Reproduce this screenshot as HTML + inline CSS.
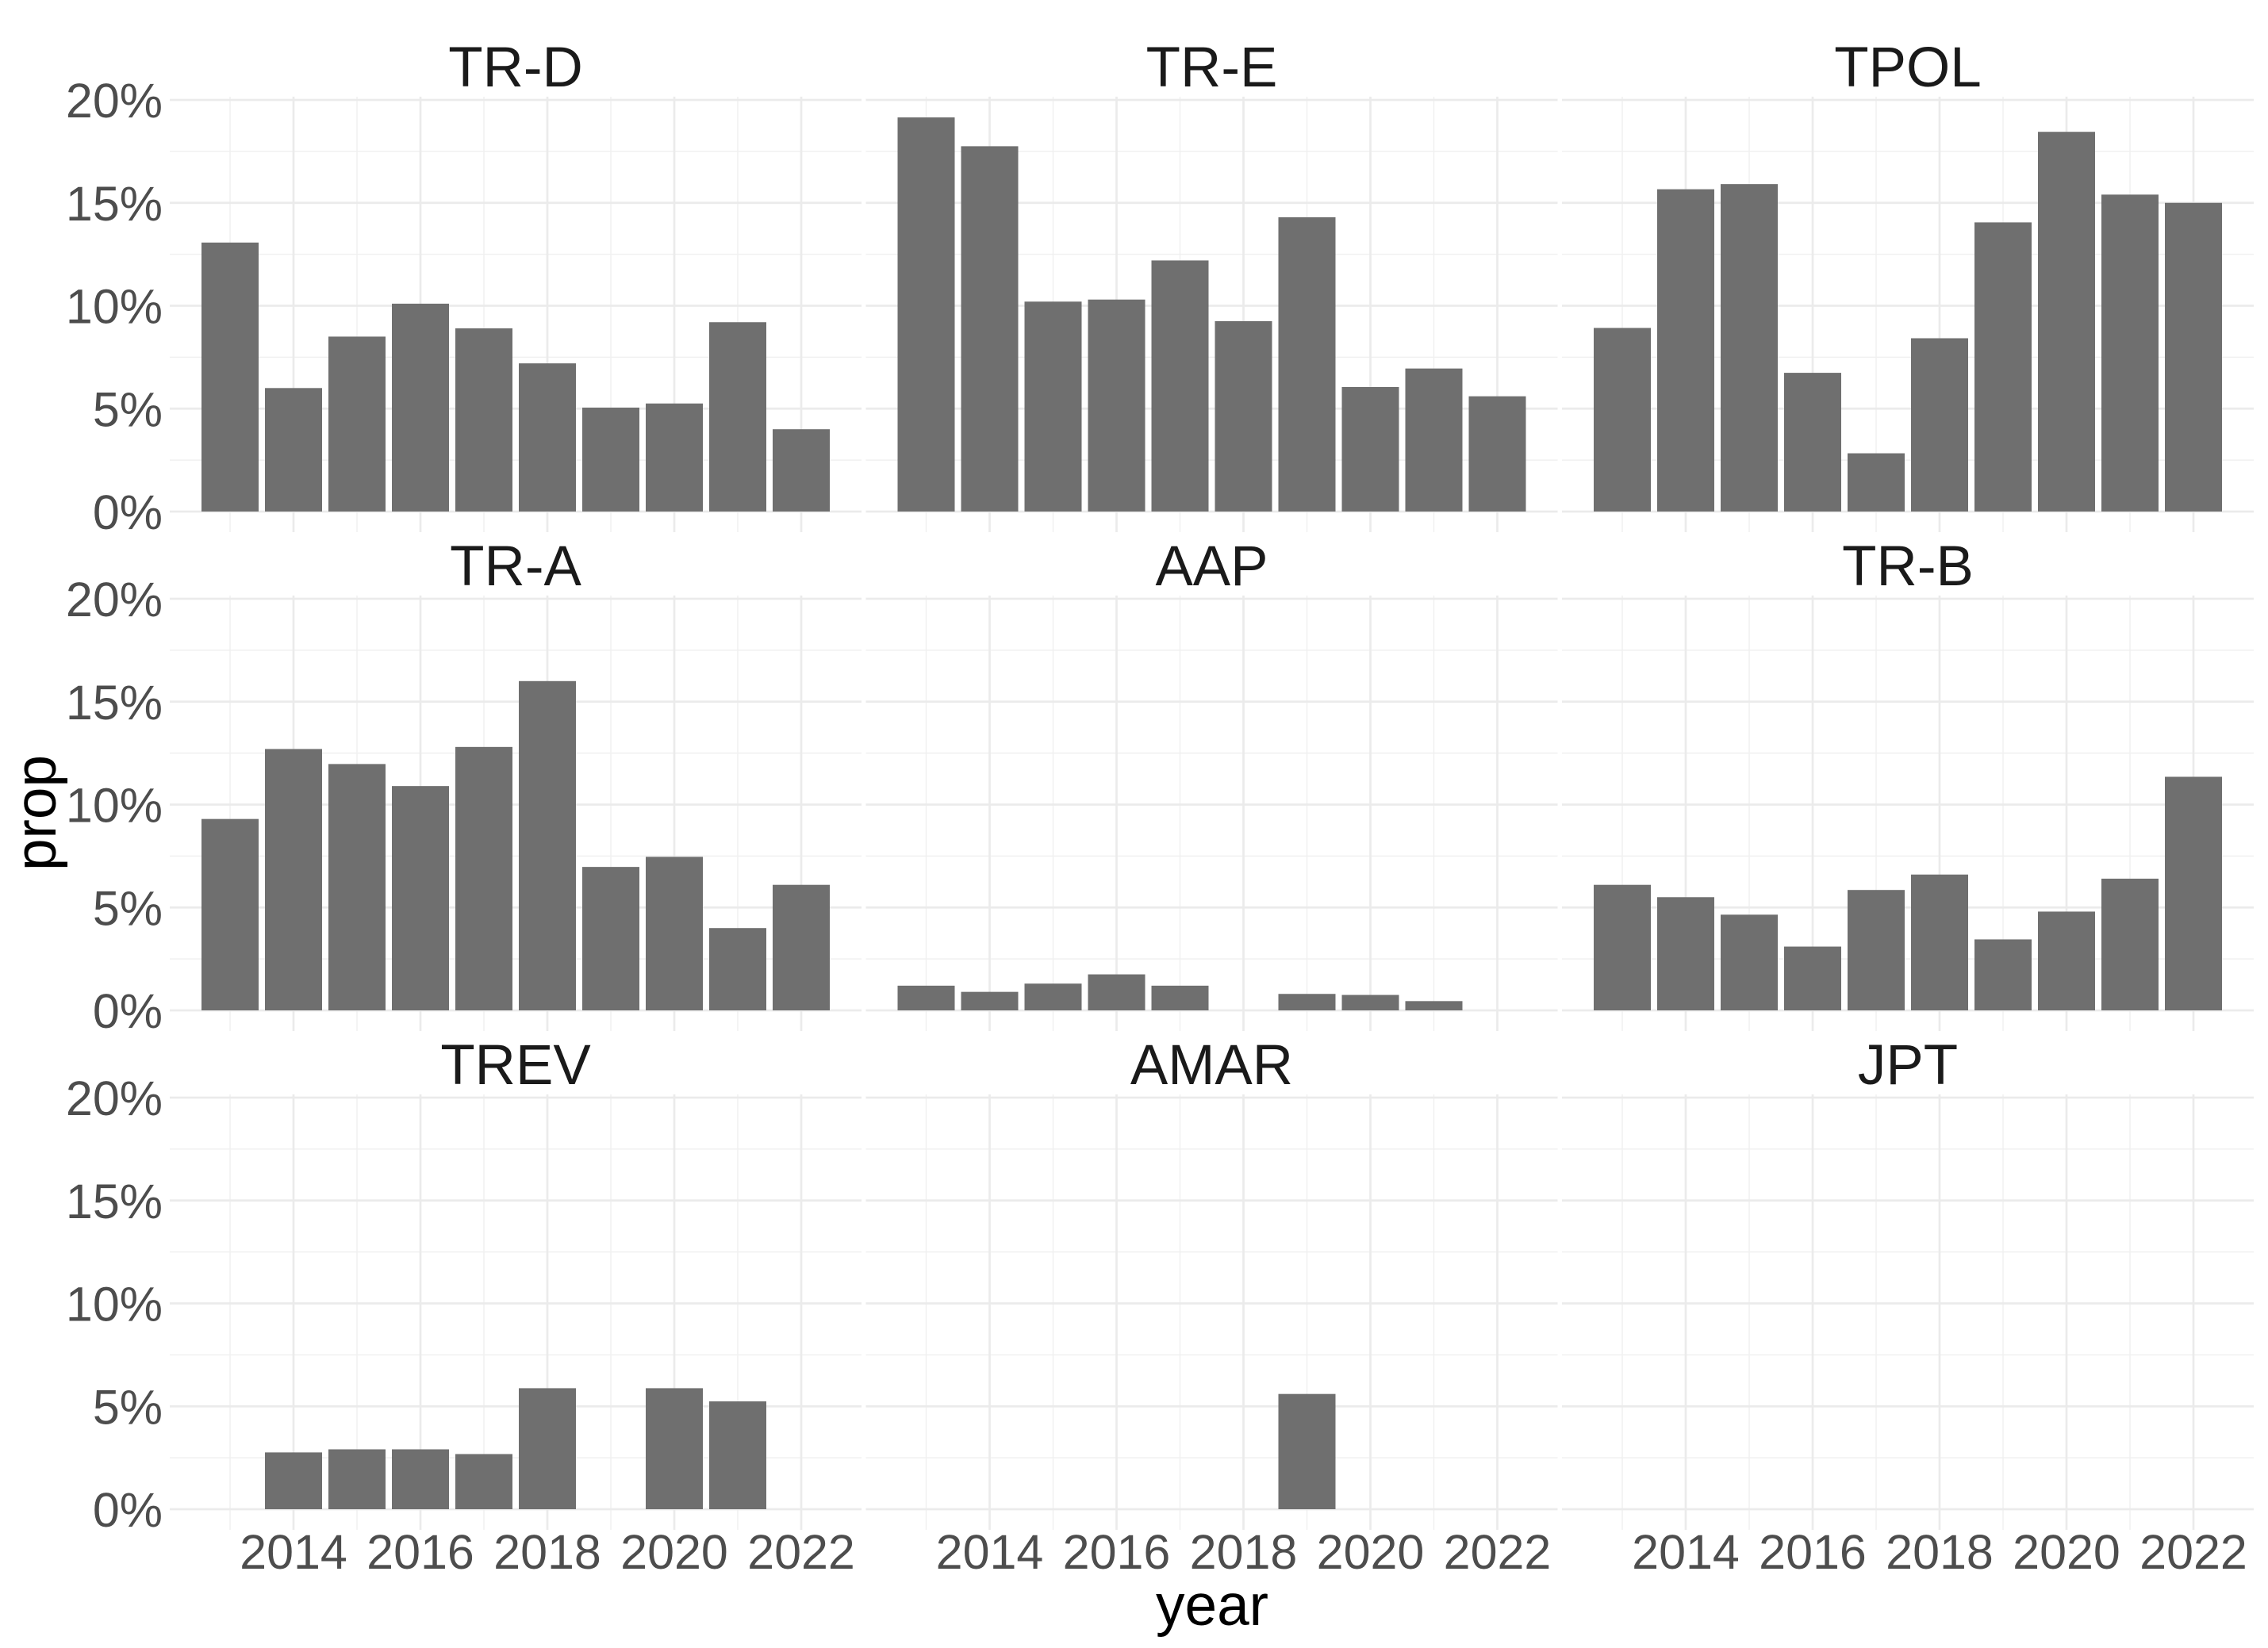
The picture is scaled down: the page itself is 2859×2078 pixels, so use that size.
<!DOCTYPE html>
<html><head><meta charset="utf-8"><style>
html,body{margin:0;padding:0;background:#fff}
svg{display:block}
text{font-family:"Liberation Sans",sans-serif}
</style></head><body>
<svg id="chart" width="2859" height="2078" viewBox="0 0 2859 2078" xmlns="http://www.w3.org/2000/svg">
<rect width="2859" height="2078" fill="#fff"/>
<g id="panels"></g>
<text x="1528" y="2049" font-size="73" text-anchor="middle" fill="#000">year</text>
<text transform="translate(70,1025) rotate(-90)" font-size="73" text-anchor="middle" fill="#000">prop</text>
</svg>
<script>
const years = [2013,2014,2015,2016,2017,2018,2019,2020,2021,2022];
const panelNames = ["TR-D","TR-E","TPOL","TR-A","AAP","TR-B","TREV","AMAR","JPT"];
const valsTRD  = [13.07,6.0,8.5,10.1,8.9,7.2,5.05,5.25,9.2,4.0];
const valsTRE  = [19.15,17.75,10.2,10.3,12.2,9.25,14.3,6.05,6.95,5.6];
const valsTPOL = [8.92,15.66,15.91,6.74,2.83,8.42,14.05,18.45,15.4,15.0];
const valsTRA  = [9.3,12.7,11.97,10.9,12.8,16.0,6.97,7.46,4.0,6.1];
const valsAAP  = [1.2,0.9,1.3,1.75,1.2,null,0.8,0.75,0.45,null];
const valsTRB  = [6.1,5.5,4.65,3.1,5.85,6.6,3.45,4.8,6.4,11.35];
const valsTREV = [null,2.76,2.91,2.91,2.68,5.88,null,5.88,5.24,null];
const valsAMAR = [null,null,null,null,null,null,5.6,null,null,null];
const valsJPT  = [null,null,null,null,null,null,null,null,null,null];
const yTicks = [0,5,10,15,20];
const yTickLabels = ["0%","5%","10%","15%","20%"];
const xTicks = [2014,2016,2018,2020,2022];
const xTickLabels = ["2014","2016","2018","2020","2022"];

const allVals = [valsTRD,valsTRE,valsTPOL,valsTRA,valsAAP,valsTRB,valsTREV,valsAMAR,valsJPT];
const NS = "http://www.w3.org/2000/svg";
const root = document.getElementById('panels');
const colLeft = [214,1091.5,1969], PW = 872;
const zeroY = [645,1274,1903];
const PX_PER = 25.95, YEAR_W = 80, X0OFF = 76;
const yMin = -1.0, yMax = 20.16;
function mk(tag, attrs, parent){const e=document.createElementNS(NS,tag);for(const k in attrs)e.setAttribute(k,attrs[k]);parent.appendChild(e);return e;}
for (let p=0;p<9;p++){
  const r=Math.floor(p/3), c=p%3;
  const left=colLeft[c], z=zeroY[r];
  const xs = yr => left + X0OFF + (yr-2013)*YEAR_W;
  const ys = v => z - v*PX_PER;
  const g = mk('g',{},root);
  
  
  const top=ys(yMax), bot=ys(yMin);
  // minor horizontal grid
  for(let v=2.5; v<20; v+=5){
    const l=mk('line',{x1:left,x2:left+PW,y1:ys(v),y2:ys(v),stroke:'#f0f0f0','stroke-width':1.4},g);
     
  }
  // vertical grid
  for(let yr=2013; yr<=2022; yr++){
    const major = xTicks.includes(yr);
    const l=mk('line',{x1:xs(yr),x2:xs(yr),y1:top,y2:bot,stroke:major?'#ebebeb':'#f0f0f0','stroke-width':major?2.7:1.4},g);
     
  }
  yTicks.forEach(v=>{
    const l=mk('line',{x1:left,x2:left+PW,y1:ys(v),y2:ys(v),stroke:'#ebebeb','stroke-width':2.7},g);
     
  });
  // bars
  allVals[p].forEach((v,i)=>{
    if(v===null) return;
    const b=mk('rect',{x:xs(years[i])-36,y:ys(v),width:72,height:v*PX_PER,fill:'#6f6f6f'},g);
     
  });
  // title
  const t=mk('text',{x:left+PW/2,y:z-536,'font-size':71,'text-anchor':'middle',fill:'#1a1a1a'},g);
  t.textContent=panelNames[p];
   
  if(c===0){
    yTicks.forEach((v,i)=>{
      const tl=mk('text',{x:205,y:ys(v)+22,'font-size':61,'text-anchor':'end',fill:'#4d4d4d'},g);
      tl.textContent=yTickLabels[i];
       
    });
  }
  if(r===2){
    xTicks.forEach((yr,i)=>{
      const tl=mk('text',{x:xs(yr),y:1978,'font-size':61,'text-anchor':'middle',fill:'#4d4d4d'},g);
      tl.textContent=xTickLabels[i];
       
    });
  }
}
</script>
</body></html>
